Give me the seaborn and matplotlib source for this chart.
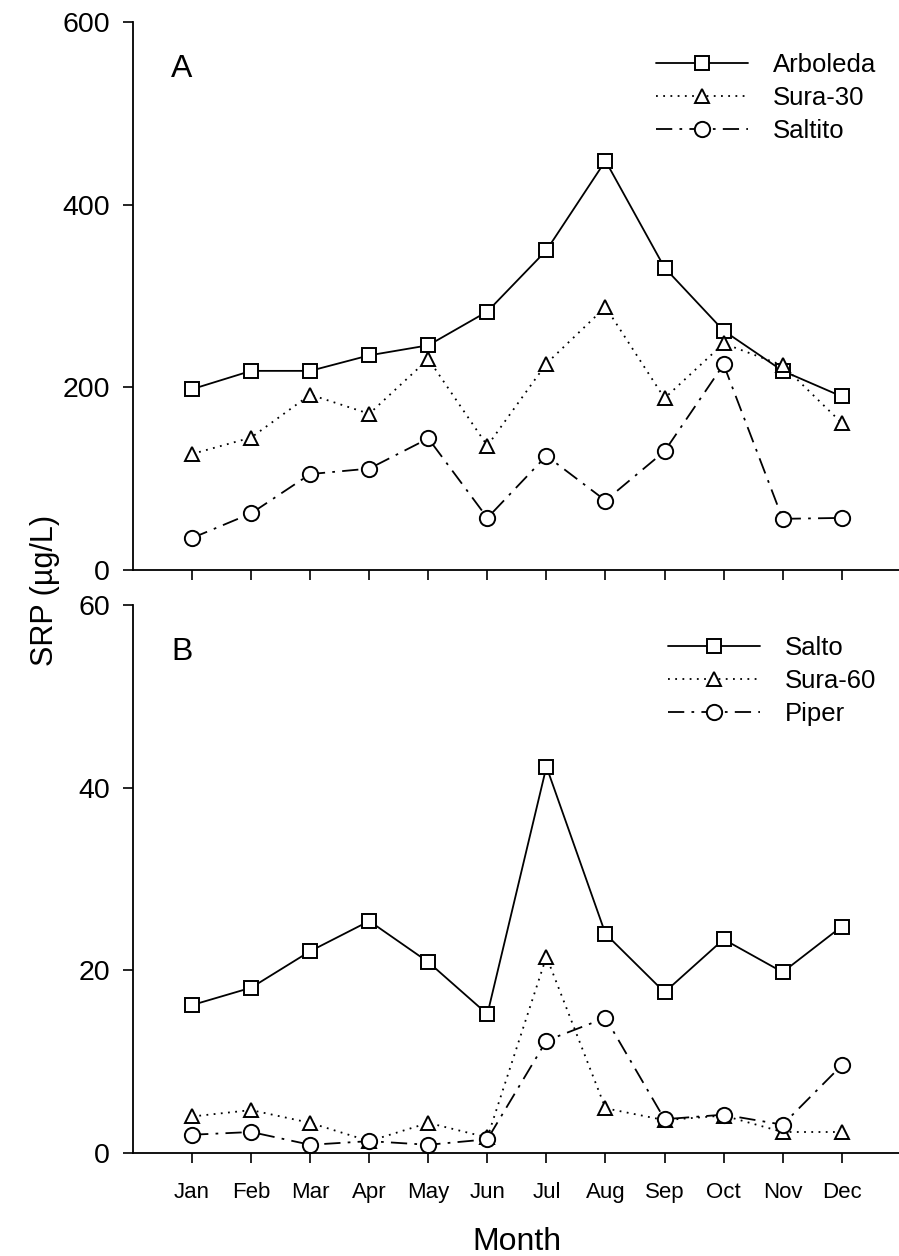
import matplotlib
matplotlib.use("Agg")
import matplotlib.pyplot as plt
import seaborn as sns
import pandas as pd

months = ["Jan", "Feb", "Mar", "Apr", "May", "Jun", "Jul", "Aug", "Sep", "Oct", "Nov", "Dec"]
month_num = list(range(1, 13))

arboleda = [198, 218, 218, 235, 246, 283, 350, 448, 331, 262, 218, 190]
sura30 = [127, 145, 192, 171, 231, 136, 226, 288, 188, 248, 224, 161]
saltito = [35, 62, 105, 111, 144, 57, 125, 76, 130, 225, 56, 57]

salto = [16.2, 18.1, 22.1, 25.4, 20.9, 15.2, 42.3, 24.0, 17.6, 23.4, 19.8, 24.8]
sura60 = [4.0, 4.7, 3.3, 1.3, 3.3, 1.7, 21.5, 4.9, 3.6, 4.1, 2.3, 2.3]
piper = [2.0, 2.3, 0.9, 1.3, 0.9, 1.5, 12.3, 14.8, 3.7, 4.2, 3.1, 9.6]

top_ticks = [0, 200, 400, 600]
bot_ticks = [0, 20, 40, 60]

sns.set_theme(style="ticks", rc={"text.color": "black", "axes.labelcolor": "black",
                                 "xtick.color": "black", "ytick.color": "black",
                                 "axes.edgecolor": "black"})
plt.rcParams["font.family"] = ["Liberation Sans", "DejaVu Sans"]

fig = plt.figure(figsize=(8.99, 12.56), dpi=100)
ax1 = fig.add_axes([0.148, 0.5462, 0.852, 0.4363])
ax2 = fig.add_axes([0.148, 0.0820, 0.852, 0.4363])

styles = [
    dict(marker="s", linestyle="-", markersize=9.5),
    dict(marker="^", linestyle=(0, (1, 3)), markersize=10),
    dict(marker="o", linestyle=(0, (9, 4, 1.5, 4)), markersize=11),
]

def draw(ax, series, labels, ticks, ymax, letter):
    for vals, lab, st in zip(series, labels, styles):
        df = pd.DataFrame({"month": month_num, "value": vals})
        sns.lineplot(data=df, x="month", y="value", ax=ax, color="black",
                     linewidth=1.3, markerfacecolor="white",
                     markeredgecolor="black", markeredgewidth=1.4,
                     label=lab, **st)
    ax.set_xlim(0, 12.97)
    ax.set_ylim(0, ymax)
    ax.set_yticks(ticks)
    ax.set_yticklabels([str(t) for t in ticks], fontsize=20.5)
    ax.set_xticks(month_num)
    ax.set_xlabel("")
    ax.set_ylabel("")
    for s in ["top", "right"]:
        ax.spines[s].set_visible(False)
    for s in ["left", "bottom"]:
        ax.spines[s].set_linewidth(1.3)
        ax.spines[s].set_color("black")
    ax.tick_params(axis="both", direction="out", length=7, width=1.2, colors="black")
    ax.tick_params(axis="y", pad=9.5)
    ax.text(0.064, 0.915, letter, transform=ax.transAxes, fontsize=23,
            ha="center", va="center")
    ax.legend(loc="upper right", bbox_to_anchor=(1.0, 0.986), frameon=False,
              fontsize=18.5, handlelength=3.6, handletextpad=0.95,
              labelspacing=0.36)

draw(ax1, [arboleda, sura30, saltito], ["Arboleda", "Sura-30", "Saltito"], top_ticks, 600, "A")
draw(ax2, [salto, sura60, piper], ["Salto", "Sura-60", "Piper"], bot_ticks, 60, "B")

ax1.set_xticklabels([])
ax2.set_xticklabels(months, fontsize=16)
ax2.tick_params(axis="x", pad=14)

fig.text(0.575, 0.0048, "Month", fontsize=23, ha="center", va="baseline")
fig.text(0.05, 0.530, "SRP (µg/L)", fontsize=22, ha="center", va="center", rotation=90)

fig.savefig("out.png", dpi=100, facecolor="white")
